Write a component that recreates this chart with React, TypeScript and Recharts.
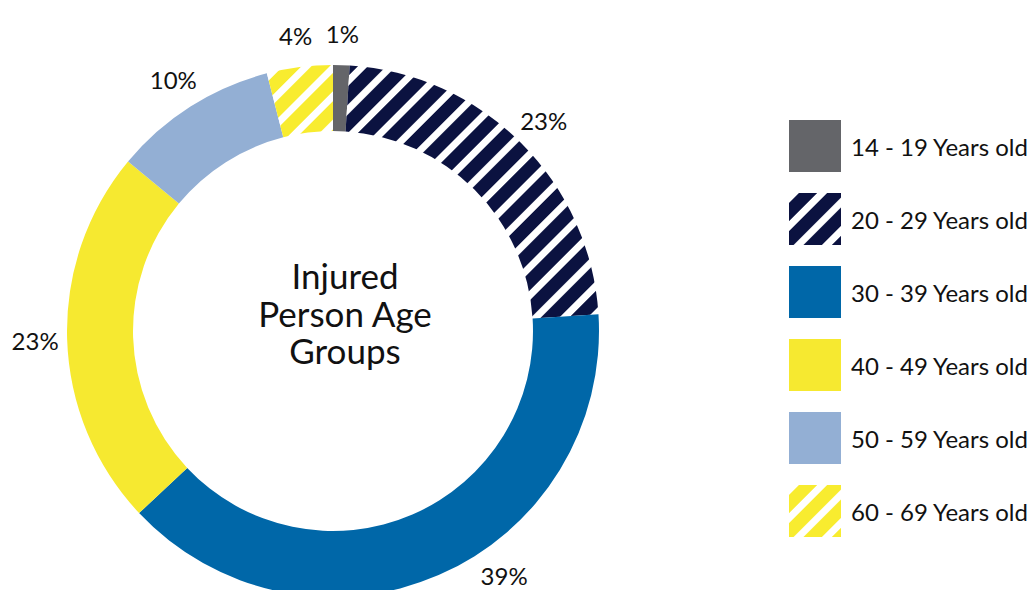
import { PieChart, Pie, Cell, Legend, Label } from 'recharts'

const AGE_GROUPS = [
  '14 - 19 Years old',
  '20 - 29 Years old',
  '30 - 39 Years old',
  '40 - 49 Years old',
  '50 - 59 Years old',
  '60 - 69 Years old',
]
const SHARES = [1, 23, 39, 23, 10, 4]
const FILLS = ['#646569', 'url(#navyStripes)', '#0067a8', '#f6e930', '#93afd4', 'url(#yellowStripes)']
const TITLE_LINES = ['Injured', 'Person Age', 'Groups']

const FONT = 'Lato, "Noto Sans", sans-serif'
const RADIAN = Math.PI / 180
const CX = 333
const CY = 331

const data = AGE_GROUPS.map((name, i) => ({ name, value: SHARES[i], fill: FILLS[i] }))

const renderLabel = (props: any) => {
  const { cx, cy, midAngle, outerRadius, value } = props
  const r = outerRadius + 32
  let x = cx + r * Math.cos(-midAngle * RADIAN)
  let y = cy + r * Math.sin(-midAngle * RADIAN)
  // keep labels inside the picture at the bottom
  const maxY = 575
  if (y > maxY) {
    const dx = Math.sqrt(r * r - (maxY - cy) * (maxY - cy))
    x = cx + (x >= cx ? dx : -dx)
    y = maxY
  }
  return (
    <text x={x} y={y} textAnchor="middle" dominantBaseline="central" fill="#111" fontSize={24} fontFamily={FONT}>
      {value}%
    </text>
  )
}

const renderTitle = () => (
  <text x={CX + 12} y={CY - 56} textAnchor="middle" dominantBaseline="central" fill="#111" fontSize={35} fontFamily={FONT}>
    {TITLE_LINES.map((line, i) => (
      <tspan key={i} x={CX + 12} dy={i === 0 ? 0 : 37.5}>{line}</tspan>
    ))}
  </text>
)

const renderLegend = () => (
  <div style={{ fontFamily: FONT }}>
    {data.map((d, i) => (
      <div key={i} style={{ display: 'flex', alignItems: 'center', height: 52, marginBottom: 21 }}>
        <svg width={52} height={52} style={{ display: 'block' }}>
          <rect x={0} y={0} width={52} height={52} fill={d.fill} />
        </svg>
        <span style={{ marginLeft: 10, fontSize: 24, color: '#111', whiteSpace: 'nowrap' }}>{d.name}</span>
      </div>
    ))}
  </div>
)

export default function App() {
  return (
    <div style={{ width: 1029, height: 590, overflow: 'hidden', background: '#fff' }}>
      <style>{`body{margin:0;overflow:hidden}`}</style>
      <PieChart width={1029} height={600} margin={{ top: 0, right: 0, bottom: 0, left: 0 }}>
        <defs>
          <pattern id="navyStripes" width={20} height={20} patternUnits="userSpaceOnUse" patternTransform="rotate(45)">
            <rect width={20} height={20} fill="#0b1240" />
            <rect width={7} height={20} fill="#ffffff" />
          </pattern>
          <pattern id="yellowStripes" width={20} height={20} patternUnits="userSpaceOnUse" patternTransform="rotate(45)">
            <rect width={20} height={20} fill="#f8ec2f" />
            <rect width={7} height={20} fill="#ffffff" />
          </pattern>
        </defs>
        <Pie
          data={data}
          dataKey="value"
          nameKey="name"
          cx={CX}
          cy={CY}
          innerRadius={200}
          outerRadius={266}
          startAngle={90}
          endAngle={-270}
          stroke="none"
          label={renderLabel}
          labelLine={false}
          isAnimationActive={false}
        >
          {data.map((d, i) => (
            <Cell key={i} fill={d.fill} />
          ))}
          <Label position="center" content={renderTitle} />
        </Pie>
        <Legend
          layout="vertical"
          verticalAlign="top"
          align="right"
          content={renderLegend}
          wrapperStyle={{ left: 789, top: 120, width: 240 }}
        />
      </PieChart>
    </div>
  )
}
